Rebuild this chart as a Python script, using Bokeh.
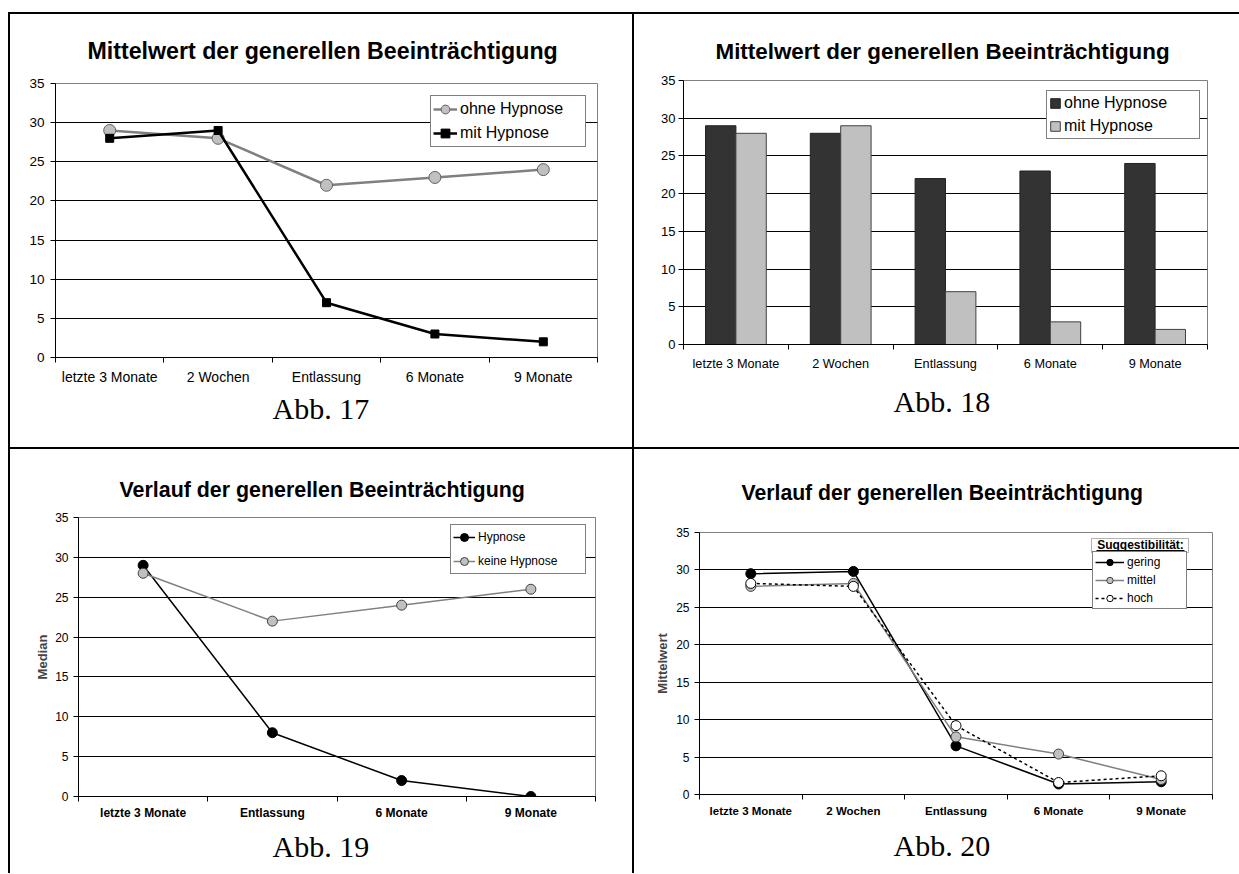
from bokeh.plotting import figure
from bokeh.models import (Range1d, FixedTicker, Legend, LegendItem, Label,
                          BoxAnnotation, Spacer, Title)
from bokeh.layouts import row, column
from bokeh.embed import file_html
from bokeh.resources import INLINE

# ---------------- data ----------------
cats5 = ["letzte 3 Monate", "2 Wochen", "Entlassung", "6 Monate", "9 Monate"]
cats4 = ["letzte 3 Monate", "Entlassung", "6 Monate", "9 Monate"]

abb17_ohne = [29, 28, 22, 23, 24]
abb17_mit = [28, 29, 7, 3, 2]

abb18_ohne = [29, 28, 22, 23, 24]
abb18_mit = [28, 29, 7, 3, 2]

abb19_hypnose = [29, 8, 2, 0]
abb19_keine = [28, 22, 24, 26]

abb20_gering = [29.5, 29.8, 6.5, 1.4, 1.7]
abb20_mittel = [27.8, 28.2, 7.7, 5.4, 2.0]
abb20_hoch = [28.2, 27.8, 9.2, 1.6, 2.5]

yticks = [0, 5, 10, 15, 20, 25, 30, 35]
gridticks = [5, 10, 15, 20, 25, 30]

title_mw = "Mittelwert der generellen Beeinträchtigung"
title_vl = "Verlauf der generellen Beeinträchtigung"
captions = ["Abb. 17", "Abb. 18", "Abb. 19", "Abb. 20"]

SANS = "Liberation Sans"
SERIF = "Liberation Serif"


def centers(cats):
    return [i + 0.5 for i in range(len(cats))]


def base_fig(w, h, left, right, top, bottom, cats, xlab_size, xlab_bold,
             ylab_size, xstand, ystand):
    p = figure(width=w, height=h, x_range=Range1d(0, len(cats)),
               y_range=Range1d(0, 35), output_backend="svg",
               toolbar_location=None, min_border_left=left,
               min_border_right=right, min_border_top=top,
               min_border_bottom=bottom)
    p.background_fill_color = "white"
    p.border_fill_color = "white"
    p.outline_line_color = "#808080"
    p.outline_line_width = 1
    p.xgrid.visible = False
    p.ygrid.ticker = FixedTicker(ticks=gridticks)
    p.ygrid.grid_line_color = "black"
    p.ygrid.grid_line_width = 1

    xa = p.xaxis[0]
    cs = centers(cats)
    xa.ticker = FixedTicker(ticks=cs, minor_ticks=list(range(len(cats) + 1)))
    xa.major_label_overrides = {c: lab for c, lab in zip(cs, cats)}
    xa.major_tick_line_color = None
    xa.major_tick_out = 0
    xa.major_tick_in = 0
    xa.minor_tick_line_color = "black"
    xa.minor_tick_out = 5
    xa.minor_tick_in = 0
    xa.axis_line_color = "black"
    xa.major_label_text_font = SANS
    xa.major_label_text_font_size = xlab_size
    xa.major_label_text_font_style = "bold" if xlab_bold else "normal"
    xa.major_label_text_color = "black"
    xa.major_label_standoff = xstand

    ya = p.yaxis[0]
    ya.ticker = FixedTicker(ticks=yticks, minor_ticks=[])
    ya.axis_line_color = "black"
    ya.major_tick_line_color = "black"
    ya.major_tick_out = 5
    ya.major_tick_in = 0
    ya.minor_tick_line_color = None
    ya.major_label_text_font = SANS
    ya.major_label_text_font_size = ylab_size
    ya.major_label_text_color = "black"
    ya.major_label_standoff = ystand
    return p


def add_title(p, text, size, offset, standoff):
    p.add_layout(Title(text=text, align="left", offset=offset,
                       standoff=standoff, vertical_align="bottom",
                       text_font=SANS, text_font_size=size,
                       text_font_style="bold", text_color="black"), "above")


def add_caption(p, text, offset, standoff):
    p.add_layout(Title(text=text, align="left", offset=offset,
                       standoff=standoff, vertical_align="top",
                       text_font=SERIF, text_font_size="30px",
                       text_font_style="normal", text_color="black"), "below")


def style_legend(lg, size, gw, gh, lh, spacing, padding, lw):
    lg.border_line_color = "black"
    lg.border_line_width = 1
    lg.background_fill_color = "white"
    lg.background_fill_alpha = 1
    lg.label_text_font = SANS
    lg.label_text_font_size = size
    lg.label_text_color = "black"
    lg.glyph_width = gw
    lg.glyph_height = gh
    lg.label_height = lh
    lg.label_width = lw
    lg.spacing = spacing
    lg.padding = padding
    lg.margin = 0
    lg.label_standoff = 3


# ---------------- Abb. 17 ----------------
p1 = base_fig(622, 433, 45, 35, 69, 90, cats5, "14px", False, "13.5px", 6, 6)
x5 = centers(cats5)
l1a = p1.line(x5, abb17_ohne, line_color="#808080", line_width=2.5)
s1a = p1.scatter(x5, abb17_ohne, marker="circle", size=12,
                 fill_color="#C0C0C0", line_color="#606060", line_width=1)
l1b = p1.line(x5, abb17_mit, line_color="black", line_width=2.5)
s1b = p1.scatter(x5, abb17_mit, marker="square", size=8,
                 fill_color="black", line_color="black")
lg1 = Legend(items=[LegendItem(label="ohne Hypnose", renderers=[l1a, s1a]),
                    LegendItem(label="mit Hypnose", renderers=[l1b, s1b])],
             location=(375, 210))
style_legend(lg1, "16px", 24, 22, 22, 2, 2, 123)
p1.add_layout(lg1)
add_title(p1, title_mw, "23.2px", 32, 39)
add_caption(p1, captions[0], 217, 8)

# ---------------- Abb. 18 ----------------
p2 = base_fig(605, 433, 49, 32, 66, 103, cats5, "12.7px", False, "13px", 7, 3)
xd = [c - 0.145 for c in x5]
xl = [c + 0.145 for c in x5]
b2a = p2.vbar(x=xd, top=abb18_ohne, width=0.29, fill_color="#333333",
              line_color="#222222", line_width=1)
b2b = p2.vbar(x=xl, top=abb18_mit, width=0.29, fill_color="#C0C0C0",
              line_color="#404040", line_width=1)
lg2 = Legend(items=[LegendItem(label="ohne Hypnose", renderers=[b2a]),
                    LegendItem(label="mit Hypnose", renderers=[b2b])],
             location=(363, 205))
style_legend(lg2, "16px", 12, 12, 20, 3, 2, 133)
p2.add_layout(lg2)
add_title(p2, title_mw, "22.4px", 32, 33)
add_caption(p2, captions[1], 210, 22)

# ---------------- Abb. 19 ----------------
p3 = base_fig(622, 424, 68, 37, 68, 77, cats4, "12px", True, "12px", 4, 5)
x4 = centers(cats4)
l3a = p3.line(x4, abb19_hypnose, line_color="black", line_width=1.5)
s3a = p3.scatter(x4, abb19_hypnose, marker="circle", size=10,
                 fill_color="black", line_color="black")
l3b = p3.line(x4, abb19_keine, line_color="#808080", line_width=1.5)
s3b = p3.scatter(x4, abb19_keine, marker="circle", size=10,
                 fill_color="#C0C0C0", line_color="#404040", line_width=1)
lg3 = Legend(items=[LegendItem(label="Hypnose", renderers=[l3a, s3a]),
                    LegendItem(label="keine Hypnose", renderers=[l3b, s3b])],
             location=(372, 222))
style_legend(lg3, "12px", 22, 20, 20, 4, 2, 105)
p3.add_layout(lg3)
p3.yaxis[0].axis_label = "Median"
p3.yaxis[0].axis_label_text_font = SANS
p3.yaxis[0].axis_label_text_font_size = "13px"
p3.yaxis[0].axis_label_text_font_style = "bold"
p3.yaxis[0].axis_label_standoff = 2
add_title(p3, title_vl, "21.4px", 41, 31)
add_caption(p3, captions[2], 194, 14)

# ---------------- Abb. 20 ----------------
p4 = base_fig(605, 424, 65, 27, 83, 79, cats5, "11.5px", True, "12px", 5, 5)
l4a = p4.line(x5, abb20_gering, line_color="black", line_width=1.5)
s4a = p4.scatter(x5, abb20_gering, marker="circle", size=10,
                 fill_color="black", line_color="black")
l4b = p4.line(x5, abb20_mittel, line_color="#808080", line_width=1.5)
s4b = p4.scatter(x5, abb20_mittel, marker="circle", size=10,
                 fill_color="#C0C0C0", line_color="#404040", line_width=1)
l4c = p4.line(x5, abb20_hoch, line_color="black", line_width=1.5,
              line_dash="3 3")
s4c = p4.scatter(x5, abb20_hoch, marker="circle", size=10,
                 fill_color="white", line_color="black", line_width=1)
lg4 = Legend(items=[LegendItem(label="gering", renderers=[l4a, s4a]),
                    LegendItem(label="mittel", renderers=[l4b, s4b]),
                    LegendItem(label="hoch", renderers=[l4c, s4c])],
             location=(393, 185))
style_legend(lg4, "12px", 29, 16, 16, 2, 2, 57)
p4.add_layout(lg4)
# legend title box "Suggestibilität:"
p4.add_layout(BoxAnnotation(left=392, right=489, bottom=242, top=256,
                            left_units="screen", right_units="screen",
                            bottom_units="screen", top_units="screen",
                            fill_color="white", fill_alpha=1,
                            line_color="black", line_width=1))
p4.add_layout(Label(x=441, y=249.5, x_units="screen", y_units="screen",
                    text="Suggestibilität:", text_align="center",
                    text_baseline="middle", text_font=SANS,
                    text_font_size="12px", text_font_style="bold",
                    text_color="black"))
p4.add_layout(BoxAnnotation(left=397, right=485, bottom=243.5, top=244.5,
                            left_units="screen", right_units="screen",
                            bottom_units="screen", top_units="screen",
                            fill_color="black", fill_alpha=1,
                            line_color=None))
p4.yaxis[0].axis_label = "Mittelwert"
p4.yaxis[0].axis_label_text_font = SANS
p4.yaxis[0].axis_label_text_font_size = "13px"
p4.yaxis[0].axis_label_text_font_style = "bold"
p4.yaxis[0].axis_label_standoff = 3
add_title(p4, title_vl, "21.2px", 42, 57)
add_caption(p4, captions[3], 194, 18)


# ---------------- page frame ----------------
def bar(w, h):
    return Spacer(width=w, height=h, margin=0,
                  styles={"background-color": "black"})


def gap(w, h):
    return Spacer(width=w, height=h, margin=0)


def box(p):
    return column(p, spacing=0)


page = column(
    gap(1239, 12),
    row(gap(8, 2), bar(1231, 2), spacing=0),
    row(gap(8, 433), bar(2, 433), box(p1), bar(2, 433), box(p2), spacing=0),
    row(gap(8, 2), bar(1231, 2), spacing=0),
    row(gap(8, 424), bar(2, 424), box(p3), bar(2, 424), box(p4), spacing=0),
    spacing=0,
)

with open("out.html", "w") as f:
    f.write(file_html(page, INLINE))
